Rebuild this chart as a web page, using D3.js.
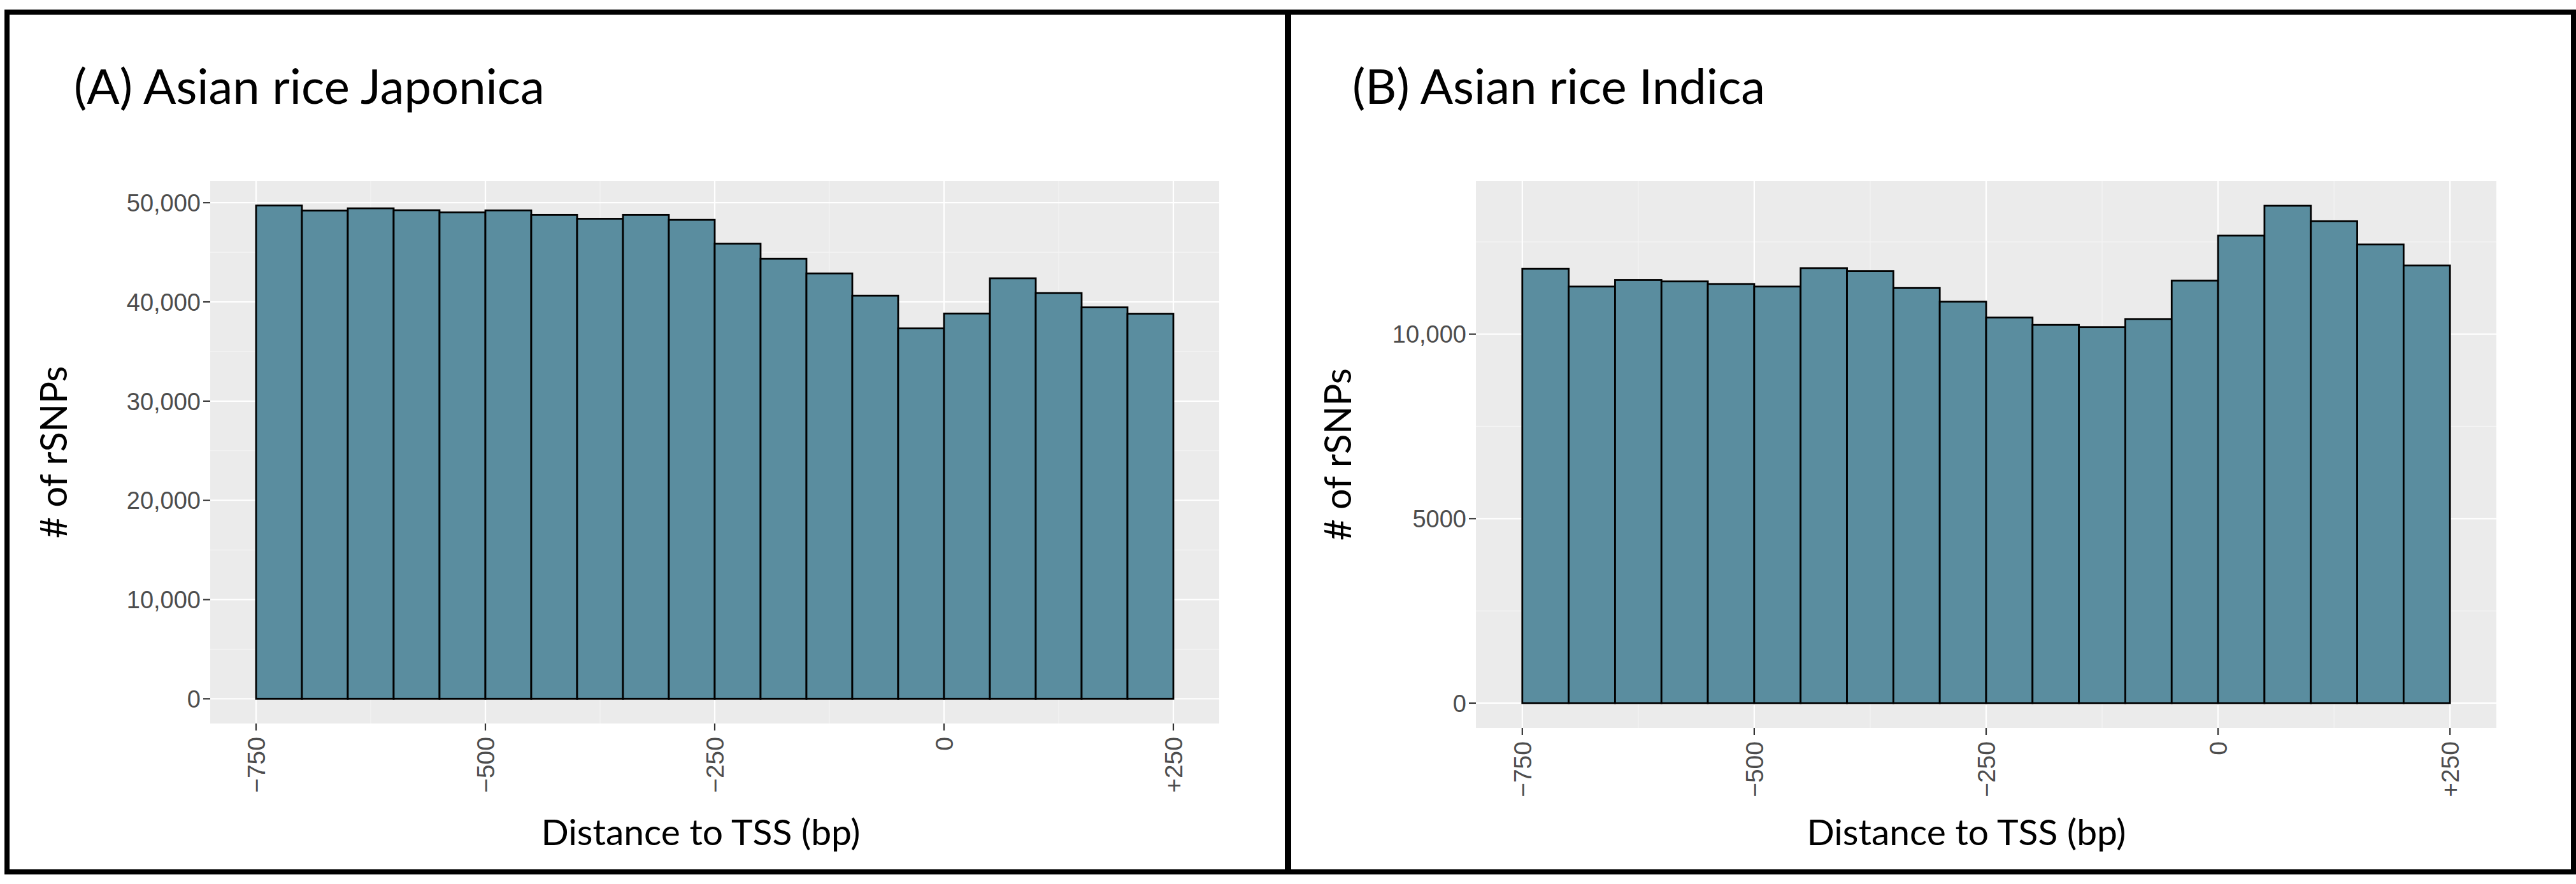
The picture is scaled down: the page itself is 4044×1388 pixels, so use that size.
<!DOCTYPE html>
<html>
<head>
<meta charset="utf-8">
<script src="https://cdn.jsdelivr.net/npm/d3@7"></script>
<style>
  html, body { margin: 0; padding: 0; background: #ffffff; }
  svg { display: block; }
</style>
</head>
<body>
<svg id="chart" width="4044" height="1388"></svg>
<script>
// ---------- DATA ----------
const binStarts = [-750, -700, -650, -600, -550, -500, -450, -400, -350, -300,
                   -250, -200, -150, -100, -50, 0, 50, 100, 150, 200];
const binWidth = 50;
const japonicaCounts = [49710, 49200, 49430, 49240, 49020, 49220, 48770, 48380, 48770, 48270,
                        45870, 44350, 42870, 40630, 37330, 38830, 42380, 40890, 39450, 38810];
const indicaCounts = [11770, 11290, 11470, 11430, 11360, 11290, 11790, 11710, 11250, 10880,
                      10450, 10250, 10190, 10410, 11450, 12670, 13480, 13060, 12430, 11860];

const xTickValues = [-750, -500, -250, 0, 250];
const xTickLabels = ["\u2212750", "\u2212500", "\u2212250", "0", "+250"];
const xMinorTicks = [-625, -375, -125, 125];

const japonicaYTicks = [0, 10000, 20000, 30000, 40000, 50000];
const japonicaYLabels = ["0", "10,000", "20,000", "30,000", "40,000", "50,000"];
const japonicaYMinor = [5000, 15000, 25000, 35000, 45000];

const indicaYTicks = [0, 5000, 10000];
const indicaYLabels = ["0", "5000", "10,000"];
const indicaYMinor = [2500, 7500, 12500];

const panelTitles = ["(A) Asian rice Japonica", "(B) Asian rice Indica"];
const xAxisTitle = "Distance to TSS (bp)";
const yAxisTitle = "# of rSNPs";

// ---------- LAYOUT ----------
const svg = d3.select("#chart");
const FILL = "#5a8d9f";
const PANEL_BG = "#ebebeb";

const panels = [
  { counts: japonicaCounts, yTicks: japonicaYTicks, yLabels: japonicaYLabels, yMinor: japonicaYMinor,
    title: panelTitles[0], titleX: 116,
    left: 330, right: 1914, top: 284, bottom: 1136,
    yTitleX: 105, xTitleX: 1100 },
  { counts: indicaCounts, yTicks: indicaYTicks, yLabels: indicaYLabels, yMinor: indicaYMinor,
    title: panelTitles[1], titleX: 2123,
    left: 2317, right: 3919, top: 284, bottom: 1143,
    yTitleX: 2121, xTitleX: 3087 }
];

panels.forEach(p => {
  const g = svg.append("g");
  const maxV = d3.max(p.counts);
  const x = d3.scaleLinear().domain([-800, 300]).range([p.left, p.right]);
  const y = d3.scaleLinear().domain([-0.05 * maxV, 1.05 * maxV]).range([p.bottom, p.top]);

  // panel background
  g.append("rect")
    .attr("x", p.left).attr("y", p.top)
    .attr("width", p.right - p.left).attr("height", p.bottom - p.top)
    .attr("fill", PANEL_BG);

  // minor grid
  g.selectAll(".ygm").data(p.yMinor).enter().append("line")
    .attr("x1", p.left).attr("x2", p.right)
    .attr("y1", d => y(d)).attr("y2", d => y(d))
    .attr("stroke", "#f4f4f4").attr("stroke-width", 1.2);
  g.selectAll(".xgm").data(xMinorTicks).enter().append("line")
    .attr("y1", p.top).attr("y2", p.bottom)
    .attr("x1", d => x(d)).attr("x2", d => x(d))
    .attr("stroke", "#f4f4f4").attr("stroke-width", 1.2);
  // major grid
  g.selectAll(".yg").data(p.yTicks).enter().append("line")
    .attr("x1", p.left).attr("x2", p.right)
    .attr("y1", d => y(d)).attr("y2", d => y(d))
    .attr("stroke", "#ffffff").attr("stroke-width", 2.2);
  g.selectAll(".xg").data(xTickValues).enter().append("line")
    .attr("y1", p.top).attr("y2", p.bottom)
    .attr("x1", d => x(d)).attr("x2", d => x(d))
    .attr("stroke", "#ffffff").attr("stroke-width", 2.2);

  // bars
  g.selectAll(".bar").data(p.counts).enter().append("rect")
    .attr("x", (d, i) => x(binStarts[i]))
    .attr("width", (d, i) => x(binStarts[i] + binWidth) - x(binStarts[i]))
    .attr("y", d => y(d))
    .attr("height", d => y(0) - y(d))
    .attr("fill", FILL)
    .attr("stroke", "#000000")
    .attr("stroke-width", 2.8);

  // y axis ticks + labels
  g.selectAll(".yt").data(p.yTicks).enter().append("line")
    .attr("x1", p.left - 11).attr("x2", p.left)
    .attr("y1", d => y(d)).attr("y2", d => y(d))
    .attr("stroke", "#333333").attr("stroke-width", 2.2);
  g.selectAll(".yl").data(p.yTicks).enter().append("text")
    .attr("x", p.left - 15)
    .attr("y", d => y(d))
    .attr("dy", "0.36em")
    .attr("text-anchor", "end")
    .attr("font-family", "'Liberation Sans', Arial, sans-serif")
    .attr("font-size", 38)
    .attr("fill", "#4d4d4d")
    .text((d, i) => p.yLabels[i]);

  // x axis ticks + labels
  g.selectAll(".xt").data(xTickValues).enter().append("line")
    .attr("x1", d => x(d)).attr("x2", d => x(d))
    .attr("y1", p.bottom).attr("y2", p.bottom + 11)
    .attr("stroke", "#333333").attr("stroke-width", 2.2);
  g.selectAll(".xl").data(xTickValues).enter().append("text")
    .attr("transform", d => `translate(${x(d)},${p.bottom + 21}) rotate(-90)`)
    .attr("dy", "0.36em")
    .attr("text-anchor", "end")
    .attr("font-family", "'Liberation Sans', Arial, sans-serif")
    .attr("font-size", 39)
    .attr("fill", "#4d4d4d")
    .text((d, i) => xTickLabels[i]);

  // axis titles
  g.append("text")
    .attr("x", p.xTitleX).attr("y", 1327)
    .attr("text-anchor", "middle")
    .attr("font-family", "Lato, 'Open Sans', sans-serif")
    .attr("font-size", 57)
    .attr("fill", "#000")
    .text(xAxisTitle);
  g.append("text")
    .attr("transform", `translate(${p.yTitleX},${(p.top + p.bottom) / 2}) rotate(-90)`)
    .attr("text-anchor", "middle")
    .attr("font-family", "Lato, 'Open Sans', sans-serif")
    .attr("font-size", 58)
    .attr("fill", "#000")
    .text(yAxisTitle);

  // panel title
  g.append("text")
    .attr("x", p.titleX).attr("y", 163)
    .attr("font-family", "Lato, 'Open Sans', sans-serif")
    .attr("font-size", 76)
    .attr("fill", "#000")
    .text(p.title);
});

// frame borders
svg.append("rect")
  .attr("x", 11).attr("y", 19)
  .attr("width", 4040 - 11).attr("height", 1369 - 19)
  .attr("fill", "none").attr("stroke", "#000").attr("stroke-width", 8);
svg.append("line")
  .attr("x1", 2022).attr("x2", 2022).attr("y1", 19).attr("y2", 1369)
  .attr("stroke", "#000").attr("stroke-width", 10);
</script>
</body>
</html>
